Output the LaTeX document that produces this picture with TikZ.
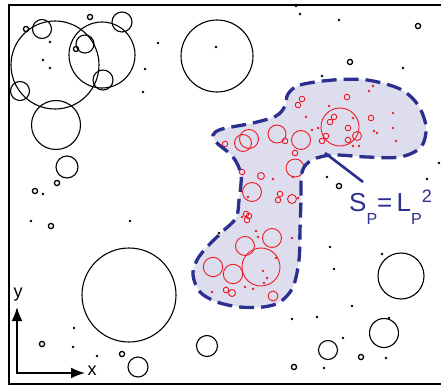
\documentclass[tikz,border=0pt]{standalone}
\usepackage{fontspec}
\setmainfont{Liberation Sans}
\usetikzlibrary{arrows.meta}
\definecolor{patchblue}{RGB}{43,47,142}
\definecolor{patchfill}{RGB}{221,221,238}
\definecolor{grainred}{RGB}{237,28,36}

\begin{document}
\begin{tikzpicture}[x=1pt,y=-1pt,
  grain/.style={circle,fill,inner sep=0.95pt},
  redgrain/.style={circle,fill=grainred,inner sep=0.9pt},
  ring/.style={line width=1.1pt},
  redring/.style={grainred,line width=0.9pt},
  patch/.style={patchblue,line width=3.3pt,dash pattern=on 15pt off 7pt,fill=patchfill},
  axis/.style={line width=1.8pt,{Latex[length=14pt,width=11pt]}-{Latex[length=14pt,width=11pt]}}]

\useasboundingbox (0,0) rectangle (441,385);
\draw[line width=1.8pt] (441,5) -- (9,5) -- (9,384) -- (441,384);	% Rahmen

% Flaeche S_P
\path[patch,draw=none] plot[smooth cycle,tension=0.55] coordinates {
  (288,94) (300,85) (333,80) (367,80) (400,89) (418,105) (426,127) (421,147)
  (400,157) (367,157) (333,155) (312,160) (302,172) (301,200) (300,230) (299,260)
  (293,287) (280,302) (263,307) (240,307) (217,302) (200,292) (193,275) (197,260)
  (207,247) (222,232) (236,218) (239,200) (241,175) (233,157) (217,143) (213,135)
  (222,129) (253,123) (276,116) (285,106)};

% rote Koerner in der Flaeche
\foreach \x/\y/\r in {340/127/19, 261/267/19, 301/140/9.5, 277/134/9, 243/143/8.5,
  249/139/9.5, 295/168/9, 252/192/9.5, 245/246/9.5, 272/238/9.5, 213/267/9.7,
  233/274/9.7, 357/136/4.5, 273/296/5, 261/176/3.5, 292/199/4.5, 232/293/3.5}
  \draw[redring] (\x,\y) circle[radius=\r pt];
\foreach \x/\y in {225/144, 285/141, 295/153, 302/99, 298/105, 347/97, 330/122,
  334/117, 371/118, 348/128, 348/140, 326/136, 322/141, 280/194, 278/200,
  246/214, 249/216, 247/220, 226/290, 242/172}
  \draw[redring] (\x,\y) circle[radius=2.8pt];
\foreach \x/\y in {373/86, 369/91, 329/106, 306/117, 393/113, 374/131, 377/133,
  393/128, 396/141, 312/130, 318/128, 353/146, 359/146, 353/118, 273/179,
  293/177, 248/197, 298/198, 242/217, 256/231, 258/237, 292/238, 276/258,
  263/271, 267/278, 264/283, 245/287, 253/289, 212/292, 239/207}
  \node[redgrain] at (\x,\y) {};

% Rand
\draw[patch,fill=none] plot[smooth cycle,tension=0.55] coordinates {
  (288,94) (300,85) (333,80) (367,80) (400,89) (418,105) (426,127) (421,147)
  (400,157) (367,157) (333,155) (312,160) (302,172) (301,200) (300,230) (299,260)
  (293,287) (280,302) (263,307) (240,307) (217,302) (200,292) (193,275) (197,260)
  (207,247) (222,232) (236,218) (239,200) (241,175) (233,157) (217,143) (213,135)
  (222,129) (253,123) (276,116) (285,106)};

% schwarze Koerner
\foreach \x/\y/\r in {55/65/44, 102/55/33, 42/29/9.5, 122/22/10, 85/44/9, 103/80/10,
  20/91/9.5, 56/125/24.5, 217/56/36, 67/167/11, 129/295/47, 138/367/10,
  207/346/10.5, 401/276/23, 384/333/14.5, 328/350/9.5}
  \draw[ring] (\x,\y) circle[radius=\r pt];
\foreach \x/\y in {26/29, 90/17, 76/49, 57/183, 35/191, 51/226, 42/344, 122/354,
  361/357, 294/367, 418/26, 350/62, 339/186}
  \draw[line width=1.3pt] (\x,\y) circle[radius=2.6pt];
\foreach \x/\y in {50/42, 43/60, 50/68, 158/43, 145/69, 143/92, 216/47, 43/194,
  31/221, 130/221, 74/328, 73/347, 97/356, 296/6, 300/14, 339/20, 322/76,
  403/68, 327/177, 427/179, 439/163, 219/233, 330/247, 334/269, 382/254,
  352/306, 292/319, 317/317, 343/338, 389/318, 386/358, 324/368}
  \node[grain] at (\x,\y) {};

% Beschriftung
\node[anchor=base west,text=patchblue,inner sep=0] (law) at (349,211)
  {\fontsize{26}{30}\selectfont S\raisebox{-13pt}{\fontsize{16}{18}\selectfont P}=\,L\raisebox{-13pt}{\fontsize{16}{18}\selectfont P}\raisebox{9pt}{\fontsize{18}{20}\selectfont 2}};
\coordinate (foot) at (363,182);
\coordinate (tip) at (325,153);
\draw[patchblue,line width=2.6pt] (foot) -- (tip);

% Achsen
\coordinate (origin) at (17,373);
\coordinate (xend) at (85,373);
\coordinate (yend) at (17,307);
\draw[axis] (xend) -- (origin) -- (yend);
\node[anchor=base,inner sep=0] (xlab) at (92,375) {\fontsize{18}{20}\selectfont x};
\node[anchor=base,inner sep=0] (ylab) at (18,297) {\fontsize{18}{20}\selectfont y};

\end{tikzpicture}
\end{document}
